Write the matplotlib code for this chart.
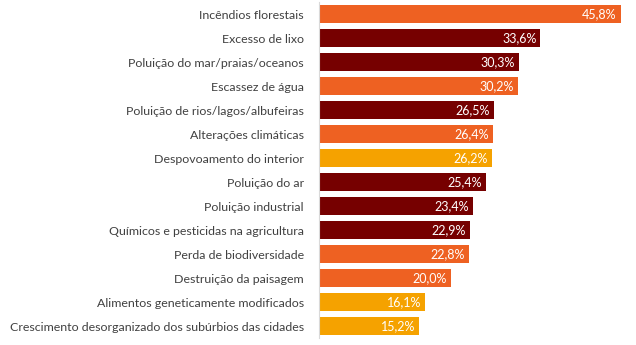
import matplotlib
matplotlib.use("Agg")
import matplotlib.pyplot as plt

categories = [
    "Incêndios florestais",
    "Excesso de lixo",
    "Poluição do mar/praias/oceanos",
    "Escassez de água",
    "Poluição de rios/lagos/albufeiras",
    "Alterações climáticas",
    "Despovoamento do interior",
    "Poluição do ar",
    "Poluição industrial",
    "Químicos e pesticidas na agricultura",
    "Perda de biodiversidade",
    "Destruição da paisagem",
    "Alimentos geneticamente modificados",
    "Crescimento desorganizado dos subúrbios das cidades",
]
values = [45.8, 33.6, 30.3, 30.2, 26.5, 26.4, 26.2, 25.4, 23.4, 22.9, 22.8, 20.0, 16.1, 15.2]
groups = ["o", "r", "r", "o", "r", "o", "a", "r", "r", "r", "o", "o", "a", "a"]
palette = {"o": "#EE6122", "r": "#760000", "a": "#F5A200"}

fig = plt.figure(figsize=(6.36, 3.45), dpi=100)
ax = fig.add_axes([319/636, 1-338/345, (622-319)/636, 336/345])
y = list(range(len(categories)))
ax.barh(y, values, height=0.75, color=[palette[g] for g in groups], zorder=2)
ax.set_ylim(len(categories)-0.5, -0.5)
ax.set_xlim(0, 46)
ax.set_yticks(y)
ax.set_yticklabels(categories, fontsize=8.9, color="#404040", family="Lato")
ax.tick_params(axis="y", length=0, pad=11)
ax.set_xticks([])
for s in ["top", "right", "bottom"]:
    ax.spines[s].set_visible(False)
ax.spines["left"].set_color("#D9D9D9")
ax.spines["left"].set_linewidth(0.8)
for yi, v in zip(y, values):
    ax.text(v - 0.6, yi, f"{v:.1f}%".replace(".", ","), ha="right", va="center",
            color="white", fontsize=9.0, family="Lato")
fig.savefig("out.png", dpi=100)
